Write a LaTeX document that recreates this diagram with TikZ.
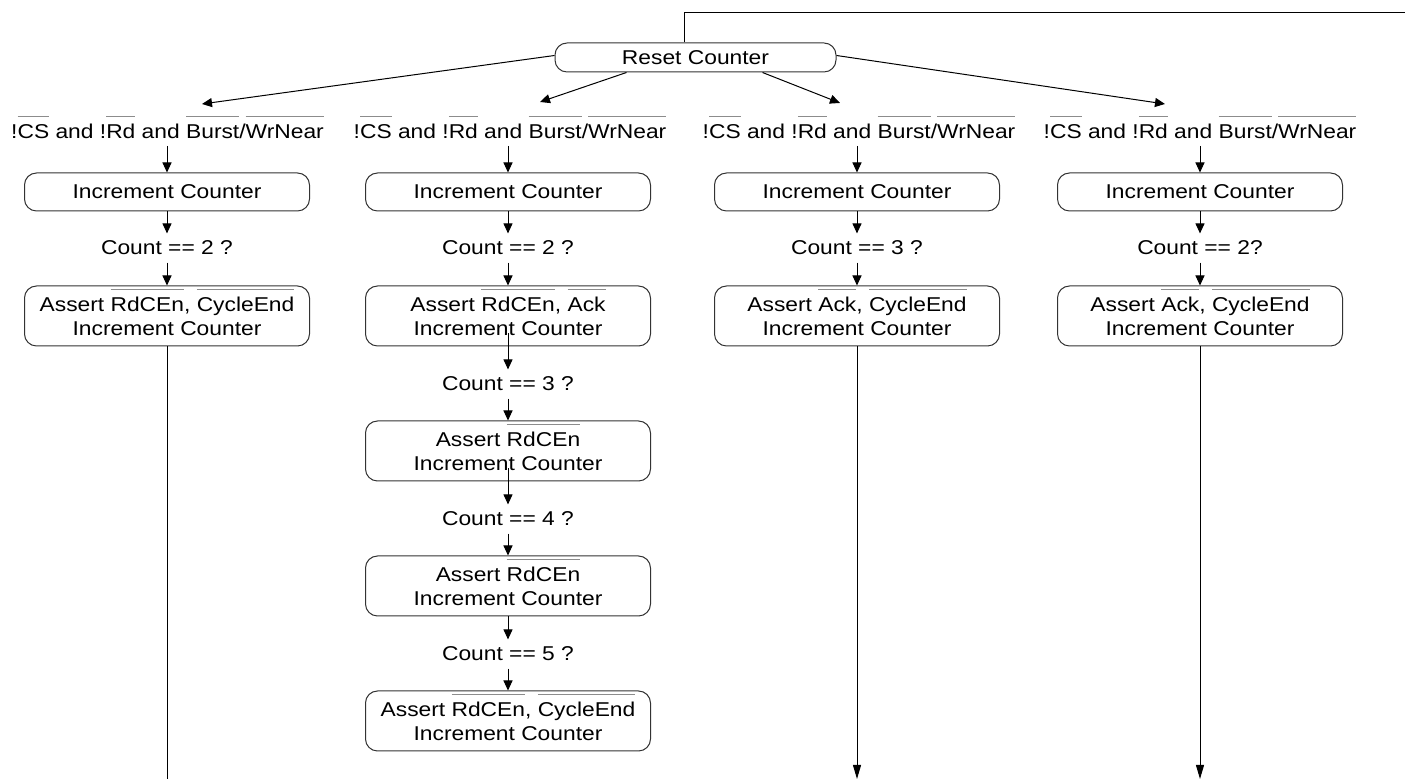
\documentclass[tikz,border=0pt]{standalone}
\usepackage{fontspec}
\setmainfont[FakeStretch=1.14]{Liberation Sans}
\usetikzlibrary{arrows.meta}

% active-low signal name: thin grey bar above the word
\newcommand\ovl[1]{\setbox0=\hbox{#1}\rlap{\smash{\color{black!45}\rule[10.8pt]{\wd0}{0.5pt}}}\box0\relax}
\newcommand\cond{!\ovl{CS} and !\ovl{Rd} and \ovl{Burst}/\ovl{WrNear}}

\begin{document}
\begin{tikzpicture}[x=0.5pt, y=-0.5pt,
  font=\fontsize{10}{12}\selectfont, line width=0.5pt,
  rbox/.style={draw=black!80, rounded corners=6pt, align=center, inner sep=0pt,
               minimum width=142.5pt, minimum height=19pt},
  tall/.style={minimum height=30pt},
  lbl/.style={inner sep=3.5pt},
  arr/.style={-{Triangle[length=5pt,width=4.5pt]}},
  arrlong/.style={-{Triangle[length=7pt,width=4pt]}}]
\useasboundingbox (0,0) rectangle (1405,779);

% start state
\node[rbox, minimum width=140.5pt, minimum height=14.5pt] (r) at (695.5,57.5) {Reset Counter};
\coordinate (e0) at (1405,13);
\draw ([xshift=-5.75pt]r.north) |- (e0);

% entry conditions
\node[lbl] (l1) at (167.5,131) {\cond};
\node[lbl] (l2) at (510,131) {\cond};
\node[lbl] (l3) at (859,131) {\cond};
\node[lbl] (l4) at (1200,131) {\cond};

\coordinate (t1) at (202,104);
\coordinate (t2) at (540,102);
\coordinate (t3) at (840,103);
\coordinate (t4) at (1165,104);
\draw[arr] ([yshift=1pt]r.west) -- (t1);
\draw[arr] ([xshift=36pt]r.south west) -- (t2);
\draw[arr] ([xshift=-37pt]r.south east) -- (t3);
\draw[arr] ([yshift=1pt]r.east) -- (t4);

% first counter step in each branch
\node[rbox] (i1) at (167,192) {Increment Counter};
\node[rbox] (i2) at (508,192) {Increment Counter};
\node[rbox] (i3) at (857,192) {Increment Counter};
\node[rbox] (i4) at (1200,192) {Increment Counter};

\node[lbl] (k1) at (167,248) {Count == 2 ?};
\node[lbl] (k2) at (508,248) {Count == 2 ?};
\node[lbl] (k3) at (857,248) {Count == 3 ?};
\node[lbl] (k4) at (1200,248) {Count == 2?};

\node[rbox, tall] (a1) at (167,316) {Assert \ovl{RdCEn}, \ovl{CycleEnd}\\Increment Counter};
\node[rbox, tall] (a2) at (508,316) {Assert \ovl{RdCEn}, \ovl{Ack}\\Increment Counter};
\node[rbox, tall] (a3) at (857,316) {Assert \ovl{Ack}, \ovl{CycleEnd}\\Increment Counter};
\node[rbox, tall] (a4) at (1200,316) {Assert \ovl{Ack}, \ovl{CycleEnd}\\Increment Counter};

\foreach \j in {1,2,3,4}{
  \draw[arr] (l\j.south -| i\j.north) -- (i\j.north);
  \draw[arr] (i\j.south) -- (k\j.north);
  \draw[arr] (k\j.south) -- (a\j.north);
}

% burst continuation of the second branch
\node[lbl] (k5) at (508,384) {Count == 3 ?};
\node[rbox, tall] (b1) at (508,451) {Assert \ovl{RdCEn}\\Increment Counter};
\node[lbl] (k6) at (508,519) {Count == 4 ?};
\node[rbox, tall] (b2) at (508,586) {Assert \ovl{RdCEn}\\Increment Counter};
\node[lbl] (k7) at (508,654) {Count == 5 ?};
\node[rbox, tall] (b3) at (508,721) {Assert \ovl{RdCEn}, \ovl{CycleEnd}\\Increment Counter};

\draw[arr] ([yshift=6.5pt]a2.south) -- (k5.north);
\draw[arr] (k5.south) -- (b1.north);
\draw[arr] ([yshift=6.5pt]b1.south) -- (k6.north);
\draw[arr] (k6.south) -- (b2.north);
\draw[arr] (b2.south) -- (k7.north);
\draw[arr] (k7.south) -- (b3.north);

% exits at the bottom
\coordinate (e1) at (167,780);
\coordinate (e3) at (857,779);
\coordinate (e4) at (1200,779);
\draw (a1.south) -- (e1);
\draw[arrlong] (a3.south) -- (e3);
\draw[arrlong] (a4.south) -- (e4);
\end{tikzpicture}
\end{document}
